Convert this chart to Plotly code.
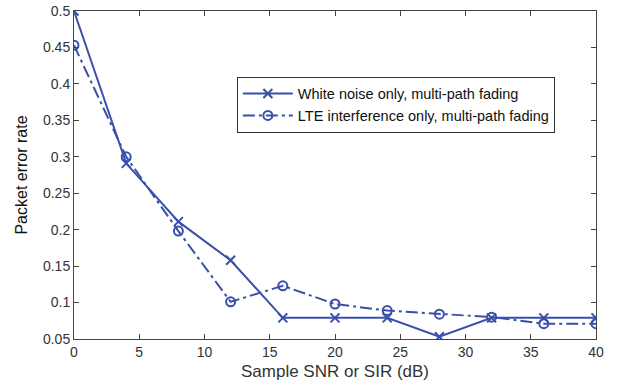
import plotly.graph_objects as go

snr = [0, 4, 8, 12, 16, 20, 24, 28, 32, 36, 40]
white_noise = [0.5, 0.291, 0.211, 0.158, 0.079, 0.079, 0.079, 0.053, 0.079, 0.079, 0.079]
lte_interf = [0.453, 0.300, 0.198, 0.101, 0.123, 0.098, 0.089, 0.084, 0.080, 0.071, 0.071]

names = ["White noise only, multi-path fading", "LTE interference only, multi-path fading"]
x_ticks = [0, 5, 10, 15, 20, 25, 30, 35, 40]
y_ticks = [0.05, 0.1, 0.15, 0.2, 0.25, 0.3, 0.35, 0.4, 0.45, 0.5]

color = "#3A4FAA"
FONT = "Liberation Sans, Arial, sans-serif"
fig = go.Figure()
fig.add_trace(go.Scatter(x=snr, y=white_noise, name=names[0], mode="lines+markers",
                         line=dict(color=color, width=2),
                         marker=dict(symbol="x-thin-open", size=9, line=dict(color=color, width=2))))
fig.add_trace(go.Scatter(x=snr, y=lte_interf, name=names[1], mode="lines+markers",
                         line=dict(color=color, width=2, dash="12px,4px,3px,4px"),
                         marker=dict(symbol="circle-open", size=9, color=color, line=dict(color=color, width=2))))

fig.update_layout(
    width=617, height=383,
    margin=dict(l=74, r=21, t=11, b=44),
    paper_bgcolor="white", plot_bgcolor="white",
    font=dict(family=FONT, size=14, color="#333"),
    showlegend=True,
    legend=dict(x=0.312, y=0.80, xanchor="left", yanchor="top",
                bordercolor="#333", borderwidth=1, bgcolor="white",
                font=dict(family=FONT, size=14.5, color="#111"),
                tracegroupgap=0, itemwidth=50),
    xaxis=dict(range=[0, 40], tickvals=x_ticks, ticks="inside", ticklen=5, tickcolor="#444",
               tickfont=dict(size=14, color="#333"), automargin=False,
               showline=True, linecolor="#444", linewidth=1, mirror="ticks", showgrid=False,
               zeroline=False, title=dict(text="Sample SNR or SIR (dB)", standoff=6,
                                          font=dict(size=17, color="#333"))),
    yaxis=dict(range=[0.05, 0.5], tickvals=y_ticks, ticktext=[f"{v:g}" for v in y_ticks],
               ticks="inside", ticklen=5, tickcolor="#444",
               tickfont=dict(size=14, color="#333"), automargin=False,
               showline=True, linecolor="#444", linewidth=1, mirror="ticks", showgrid=False,
               zeroline=False, title=dict(text="Packet error rate", standoff=11,
                                          font=dict(size=16, color="#111"))),
)
fig.write_html("out.html", config={"displayModeBar": False},
               post_script="document.body.style.margin='0';")
